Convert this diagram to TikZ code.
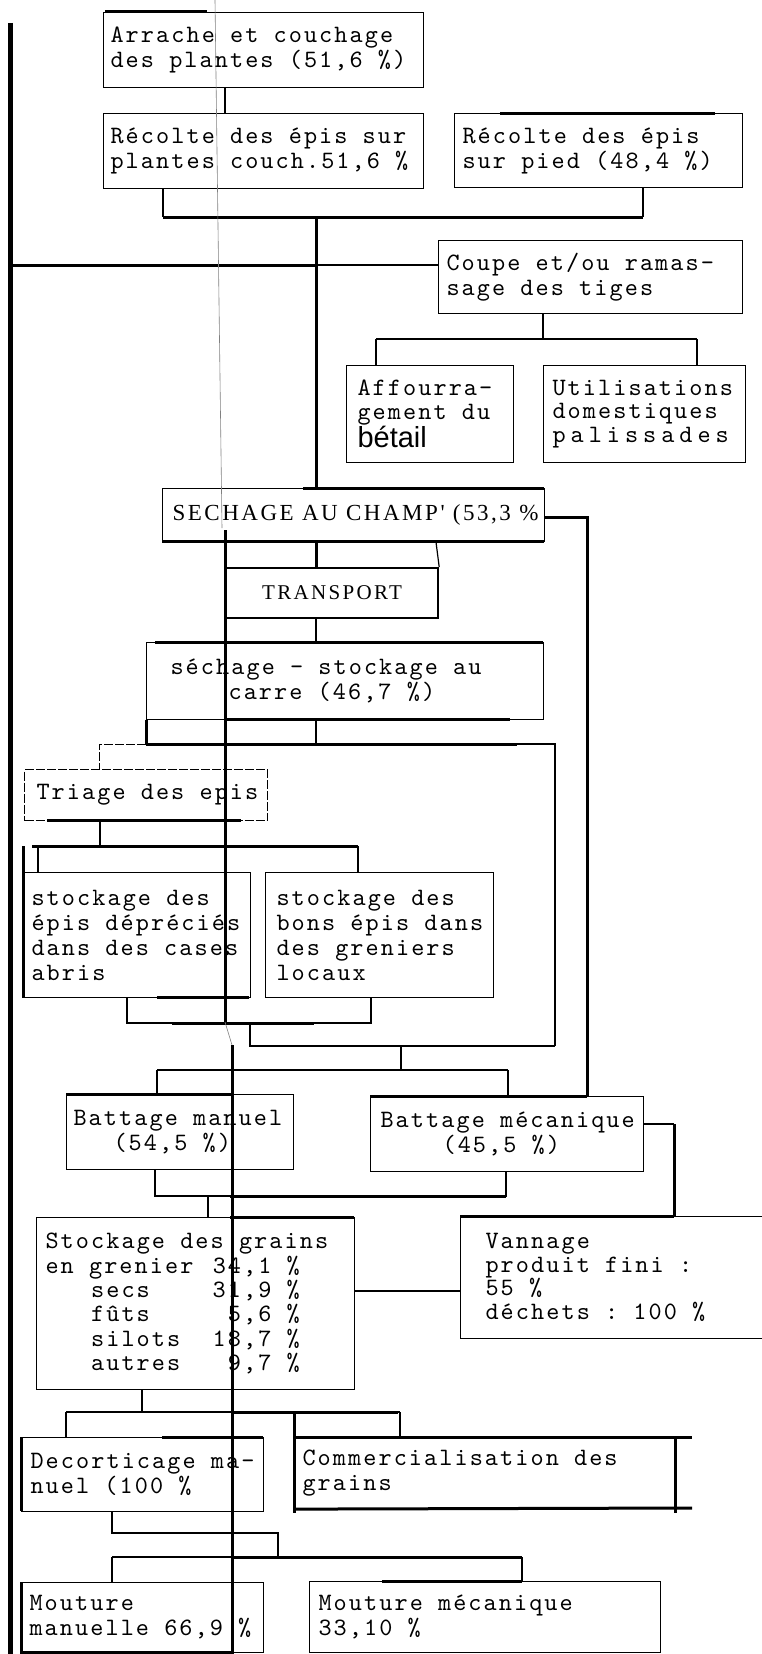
\documentclass[tikz,border=0pt]{standalone}
\usepackage{fontspec}
\newfontfamily\monof[LetterSpace=8.3]{lmmono10-regular.otf}
\newfontfamily\serifcaps[LetterSpace=11]{Liberation Serif}
\newfontfamily\sansb{Liberation Sans}
\newcommand\monosz[1]{\monof\fontsize{25}{#1}\selectfont\fontdimen2\font=15.2pt\fontdimen3\font=0pt\fontdimen4\font=0pt}
\newcommand\mkl[1]{\makebox[0pt][l]{#1}}
\newcommand\mkc[1]{\makebox[0pt]{#1}}
\newcommand\bbox[8]{%
  \pgfmathsetmacro\bw{#4-#2}\pgfmathsetmacro\bh{#5-#3}\pgfmathsetmacro\tw{#4-#2-2*#6}%
  \node[box, minimum width=\bw pt, minimum height=\bh pt, text width=\tw pt, inner xsep=#6pt, #7] (#1) at (#2,#3) {\spaceskip=\fontdimen2\font\relax\xspaceskip=\fontdimen2\font\relax #8};}
\tikzset{
  box/.style={draw, line width=1.1pt, anchor=north west, inner ysep=0pt, align=left, font=\monosz{25}},
  conn/.style={line width=1.2pt},
  heavy/.style={line width=3pt},
  bar/.style={line width=5pt},
  faint/.style={line width=1pt, dash pattern=on 9pt off 2pt},
  artifact/.style={gray, line width=0.6pt}
}
\begin{document}
\begin{tikzpicture}[x=1pt,y=-1pt]
\useasboundingbox (0,0) rectangle (762,1654);
\fill[white] (0,0) rectangle (762,1654);
\clip (0,0) rectangle (762,1654);

% ---------- boxes ----------
\bbox{A}{103}{12}{423}{87}{7}{}{\mkl{Arrache et couchage}\\\mkl{des plantes (51,6 \%)}}
\bbox{B}{103}{113}{423}{188}{7}{}{\mkl{Récolte des épis sur}\\\mkl{plantes couch.51,6 \%}}
\bbox{C}{454}{113}{742}{187}{8}{}{\mkl{Récolte des épis}\\\mkl{sur pied (48,4 \%)}}
\bbox{D}{438}{240}{742}{313}{8}{}{\mkl{Coupe et/ou ramas-}\\\mkl{sage des tiges}}
\bbox{E}{346}{365}{513}{462}{11}{font=\monosz{23.5}}{\mkl{Affourra-}\\\mkl{gement du}\\\mkl{\sansb\fontsize{29}{24}\selectfont bétail}}
\bbox{F}{543}{365}{745}{462}{9}{font=\monosz{23.5}}{\mkl{Utilisations}\\\mkl{domestiques}\\\mkl{\addfontfeatures{LetterSpace=20}palissades}}
\bbox{G}{162}{488}{544}{541}{10}{font=\serifcaps\fontsize{23}{25}\selectfont}{\mkl{SECHAGE AU CHAMP' (53,3 \%}}
\bbox{T}{225}{567}{437}{617}{10}{line width=2.2pt, align=center, font=\serifcaps\fontsize{21}{25}\selectfont}{\mkc{TRANSPORT}}
\bbox{H}{146}{642}{543}{719}{24}{}{\mkl{séchage - stockage au}\\\mkl{\hspace*{58pt}carre (46,7 \%)}}
\bbox{Tr}{24}{769}{267}{820}{12}{faint}{\mkl{Triage des epis}}
\bbox{I}{23}{872}{250}{997}{8}{}{\mkl{stockage des}\\\mkl{épis dépréciés}\\\mkl{dans des cases}\\\mkl{abris}}
\bbox{J}{265}{872}{493}{997}{11}{}{\mkl{stockage des}\\\mkl{bons épis dans}\\\mkl{des greniers}\\\mkl{locaux}}
\bbox{K}{66}{1094}{293}{1169}{7}{}{\mkl{Battage manuel}\\\mkl{\hspace*{40pt}(54,5 \%)}}
\bbox{L}{370}{1096}{643}{1171}{10}{}{\mkl{Battage mécanique}\\\mkl{\hspace*{62pt}(45,5 \%)}}
\bbox{M}{36}{1217}{354}{1389}{9}{font=\monosz{24.3}}{%
\mkl{Stockage des grains}\\
\mkl{\makebox[167.2pt][l]{en grenier}34,1 \%}\\
\mkl{\hspace*{45.6pt}\makebox[121.6pt][l]{secs}31,9 \%}\\
\mkl{\hspace*{45.6pt}\makebox[136.8pt][l]{fûts}5,6 \%}\\
\mkl{\hspace*{45.6pt}\makebox[121.6pt][l]{silots}18,7 \%}\\
\mkl{\hspace*{45.6pt}\makebox[136.8pt][l]{autres}9,7 \%}}
\bbox{N}{460}{1216}{780}{1338}{25}{font=\monosz{23.5}}{\mkl{Vannage}\\\mkl{produit fini :}\\\mkl{55 \%}\\\mkl{déchets : 100 \%}}
\bbox{O}{21}{1437}{263}{1511}{9}{}{\mkl{Decorticage ma-}\\\mkl{nuel (100 \%}}
\bbox{P}{295}{1437}{675}{1508}{7}{}{\mkl{Commercialisation des}\\\mkl{grains}}
\bbox{Q}{21}{1582}{263}{1652}{8}{}{\mkl{Mouture}\\\mkl{manuelle 66,9 \%}}
\bbox{R}{309}{1581}{660}{1652}{9}{}{\mkl{Mouture mécanique}\\\mkl{33,10 \%}}

% ---------- connectors ----------
\draw[conn] (A.south -| 225,0) -- (B.north -| 225,0);
\draw[conn] (B.south -| 163,0) -- (163,217);
\draw[conn] (C.south -| 643,0) -- (643,217);
\draw[heavy] (163,217) -- (643,217);
\draw[heavy] (316,217) -- (G.north -| 316,0);
\draw[bar] (10,23) -- (10,1654);
\draw[heavy] (10,265) -- (316,265);
\draw[conn] (316,265) -- (D.west |- 0,265);
\draw[conn] (D.south -| 543,0) -- (543,339);
\draw[conn] (376,339) -- (697,339);
\draw[conn] (376,339) -- (E.north -| 376,0);
\draw[conn] (697,339) -- (F.north -| 697,0);
\draw[heavy] (G.east |- 0,517) -- (587,517) -- (L.north -| 587,0);
\draw[heavy] (G.south -| 316,0) -- (T.north -| 316,0);
\draw[conn] (G.south -| 436,0) -- (T.north east);
\draw[conn] (T.south -| 316,0) -- (H.north -| 316,0);
\draw[heavy] (H.south west) -- (146,744);
\draw[conn] (H.south -| 316,0) -- (316,744);
\draw[heavy] (146,744) -- (517,744);
\draw[conn] (517,744) -- (555,744) -- (555,1046);
\draw[faint] (146,744) -- (99,744) -- (Tr.north -| 99,0);
\draw[conn] (Tr.south -| 100,0) -- (100,846);
\draw[heavy] (32,846) -- (358,846);
\draw[conn] (38,846) -- (I.north -| 38,0);
\draw[conn] (358,846) -- (J.north -| 358,0);
\draw[heavy] (23,846) -- (I.south west);
\draw[conn] (I.south -| 127,0) -- (127,1023) -- (371,1023) -- (J.south -| 371,0);
\draw[heavy] (172,1023) -- (314,1023);
\draw[conn] (250,1023) -- (250,1046) -- (555,1046);
\draw[conn] (401,1046) -- (401,1070);
\draw[conn] (157,1070) -- (508,1070);
\draw[conn] (157,1070) -- (K.north -| 157,0);
\draw[conn] (508,1070) -- (L.north -| 508,0);
\draw[conn] (K.south -| 155,0) -- (155,1196) -- (506,1196) -- (L.south -| 506,0);
\draw[heavy] (230,1196) -- (506,1196);
\draw[conn] (208,1196) -- (M.north -| 208,0);
\draw[conn] (L.east |- 0,1124) -- (674,1124);
\draw[heavy] (674,1124) -- (N.north -| 674,0);
\draw[heavy] (N.north west) -- (674,1216);
\draw[conn] (M.east |- 0,1291) -- (N.west |- 0,1291);
\draw[conn] (M.south -| 142,0) -- (142,1412);
\draw[conn] (66,1412) -- (400,1412);
\draw[heavy] (232,1412) -- (398,1412);
\draw[conn] (66,1412) -- (O.north -| 66,0);
\draw[conn] (400,1412) -- (P.north -| 400,0);
\draw[heavy] (294,1412) -- (294,1513);
\draw[heavy] (P.north west) -- (692,1437);
\draw[heavy] (P.south west) -- (692,1508);
\draw[heavy] (675,1437) -- (675,1513);
\draw[conn] (O.south -| 112,0) -- (112,1533) -- (278,1533) -- (278,1557);
\draw[conn] (112,1557) -- (522,1557);
\draw[heavy] (233,1557) -- (522,1557);
\draw[conn] (112,1557) -- (Q.north -| 112,0);
\draw[conn] (522,1557) -- (R.north -| 522,0);

% ---------- heavy edges and long lines of the scan ----------
\draw[artifact] (215,0) -- (222,528);
\draw[heavy] (225,530) -- (225,1022);
\draw[artifact] (225,1022) -- (232,1045);
\draw[heavy] (232,1045) -- (232,1654);
\draw[heavy] (105,12) -- (207,12);
\draw[heavy] (500,113) -- (715,113);
\draw[heavy] (303,488) -- (544,488);
\draw[heavy] (162,541) -- (544,541);
\draw[heavy] (155,642) -- (543,642);
\draw[heavy] (227,719) -- (510,719);
\draw[heavy] (47,820) -- (241,820);
\draw[heavy] (157,997) -- (249,997);
\draw[heavy] (66,1094) -- (233,1094);
\draw[heavy] (370,1096) -- (587,1096);
\draw[heavy] (230,1217) -- (354,1217);
\draw[heavy] (162,1437) -- (263,1437);
\draw[heavy] (21,1437) -- (21,1511);
\draw[heavy] (21,1582) -- (21,1654);
\draw[heavy] (21,1652) -- (232,1652);
\draw[heavy] (382,1581) -- (522,1581);
\end{tikzpicture}
\end{document}
